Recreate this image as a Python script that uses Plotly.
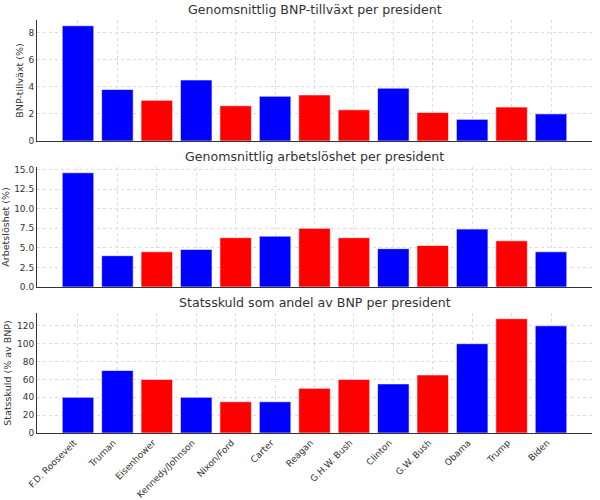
import plotly.graph_objects as go
from plotly.subplots import make_subplots

presidents = ["F.D. Roosevelt", "Truman", "Eisenhower", "Kennedy/Johnson", "Nixon/Ford",
              "Carter", "Reagan", "G.H.W. Bush", "Clinton", "G.W. Bush", "Obama", "Trump", "Biden"]
party = ["D", "D", "R", "D", "R", "D", "R", "R", "D", "R", "D", "R", "D"]
gdp_growth = [8.5, 3.8, 3.0, 4.5, 2.6, 3.3, 3.4, 2.3, 3.9, 2.1, 1.6, 2.5, 2.0]
unemployment = [14.6, 4.0, 4.5, 4.8, 6.3, 6.5, 7.5, 6.3, 4.9, 5.3, 7.4, 5.9, 4.5]
debt_to_gdp = [40, 70, 60, 40, 35, 35, 50, 60, 55, 65, 100, 128, 120]

colors = ["blue" if p == "D" else "red" for p in party]
TXT = "#333333"

fig = make_subplots(rows=3, cols=1)
panels = [
    (gdp_growth, "Genomsnittlig BNP-tillväxt per president", "BNP-tillväxt (%)", 2),
    (unemployment, "Genomsnittlig arbetslöshet per president", "Arbetslöshet (%)", 2.5),
    (debt_to_gdp, "Statsskuld som andel av BNP per president", "Statsskuld (% av BNP)", 20),
]
domains = [[0.707, 1.0], [0.3535, 0.644], [0.0, 0.2906]]

for i, (vals, title, ytitle, dtick) in enumerate(panels, start=1):
    fig.add_trace(go.Bar(x=list(range(len(presidents))), y=vals, marker_color=colors,
                         marker_line=dict(color="rgba(255,255,255,0.6)", width=1),
                         width=0.8, showlegend=False), row=i, col=1)
    fig.update_yaxes(domain=domains[i - 1], range=[0, max(vals) * 1.05], dtick=dtick,
                     tickformat=".1f" if dtick == 2.5 else "d",
                     title=dict(text=ytitle, font=dict(size=9.5, color=TXT), standoff=3),
                     row=i, col=1)
    fig.update_xaxes(range=[-1.04, 13.04], tickvals=list(range(len(presidents))),
                     ticktext=presidents if i == 3 else [""] * len(presidents),
                     tickangle=-45 if i == 3 else 0, ticklabelshift=-4 if i == 3 else 0,
                     row=i, col=1)
    d = domains[i - 1]
    fig.add_annotation(text=title, xref="paper", yref="paper", x=0.5, y=d[1],
                       yanchor="bottom", yshift=1, showarrow=False,
                       font=dict(size=12.6, color=TXT))

fig.update_xaxes(showline=True, linecolor=TXT, linewidth=1, ticks="",
                 showgrid=True, gridcolor="#dcdcdc", griddash="dot", layer="above traces",
                 zeroline=False, automargin=False, tickfont=dict(size=9, color=TXT))
fig.update_yaxes(showline=True, linecolor=TXT, linewidth=1, ticks="",
                 showgrid=True, gridcolor="#dcdcdc", griddash="dot", layer="above traces",
                 zeroline=False, automargin=False, tickfont=dict(size=9, color=TXT))

fig.update_layout(width=600, height=500, plot_bgcolor="white", paper_bgcolor="white",
                  margin=dict(l=37, r=8, t=20, b=67), bargap=0.2,
                  font=dict(family="DejaVu Sans", color=TXT))
# page body has a default 8px margin; drop it so the figure sits at the window corner
fig.write_html("out.html", config={"displayModeBar": False},
               post_script="document.body.style.margin='0';")
